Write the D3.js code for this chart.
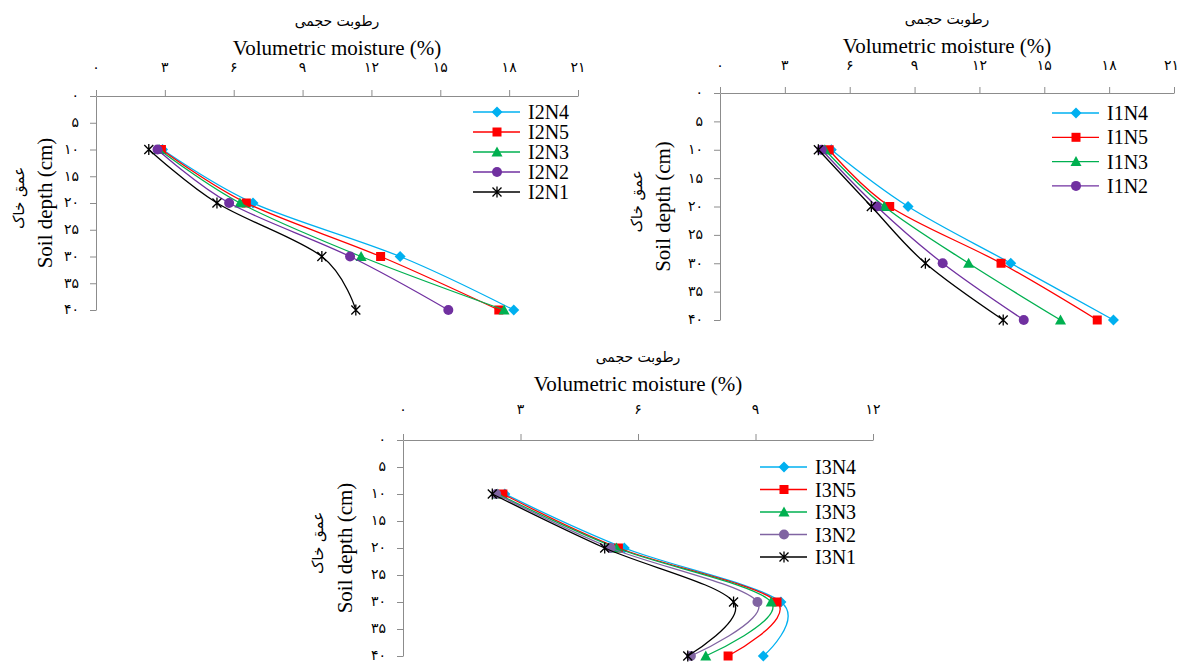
<!DOCTYPE html>
<html><head><meta charset="utf-8">
<script src="https://cdn.jsdelivr.net/npm/d3@7"></script>
<style>
html,body{margin:0;padding:0;background:#fff;}
</style></head>
<body>
<svg id="chart" width="1180" height="662"></svg>
<script>
// ---------- data ----------
const depths = [10, 20, 30, 40];
const yTickValues = [0, 5, 10, 15, 20, 25, 30, 35, 40];
const yTickLabels = ["۰","۵","۱۰","۱۵","۲۰","۲۵","۳۰","۳۵","۴۰"];
const xTickValues21 = [0, 3, 6, 9, 12, 15, 18, 21];
const xTickLabels21 = ["۰","۳","۶","۹","۱۲","۱۵","۱۸","۲۱"];
const xTickValues12 = [0, 3, 6, 9, 12];
const xTickLabels12 = ["۰","۳","۶","۹","۱۲"];
const xTitleFa = "رطوبت حجمی";
const xTitleEn = "Volumetric moisture (%)";
const yTitleFa = "عمق خاک";
const yTitleEn = "Soil depth (cm)";

// Panel I2 (top-left)
const i2Names = ["I2N4", "I2N5", "I2N3", "I2N2", "I2N1"];
const I2N4 = [2.9, 6.84, 13.25, 18.2];
const I2N5 = [2.85, 6.55, 12.4, 17.55];
const I2N3 = [2.75, 6.27, 11.55, 17.78];
const I2N2 = [2.68, 5.8, 11.07, 15.35];
const I2N1 = [2.3, 5.27, 9.84, 11.32];

// Panel I1 (top-right)
const i1Names = ["I1N4", "I1N5", "I1N3", "I1N2", "I1N1"];
const I1N4 = [5.15, 8.7, 13.45, 18.2];
const I1N5 = [5.05, 7.85, 13.0, 17.45];
const I1N3 = [4.85, 7.6, 11.5, 15.75];
const I1N2 = [4.7, 7.25, 10.3, 14.05];
const I1N1 = [4.55, 7.0, 9.5, 13.1];
const i1Legend = ["I1N4", "I1N5", "I1N3", "I1N2"];

// Panel I3 (bottom)
const i3Names = ["I3N4", "I3N5", "I3N3", "I3N2", "I3N1"];
const I3N4 = [2.6, 5.65, 9.65, 9.2];
const I3N5 = [2.55, 5.5, 9.55, 8.3];
const I3N3 = [2.42, 5.45, 9.4, 7.73];
const I3N2 = [2.38, 5.3, 9.05, 7.35];
const I3N1 = [2.28, 5.15, 8.44, 7.27];

// ---------- styles ----------
const SERIF = "'Liberation Serif','Times New Roman','DejaVu Serif',serif";
const FA = "'DejaVu Sans','Noto Sans',sans-serif";
const markerOf = {N4: "diamond", N5: "square", N3: "triangle", N2: "circle", N1: "star"};
const colorTop = {N4: "#00b0f0", N5: "#ff0000", N3: "#00b050", N2: "#7030a0", N1: "#000000"};
const colorBottom = {N4: "#00b0f0", N5: "#ff0000", N3: "#00b050", N2: "#8064a2", N1: "#000000"};

const svg = d3.select("#chart");
const W = 1180;

function drawMarker(g, type, x, y, color) {
  if (type === "diamond") {
    g.append("path").attr("d", `M${x},${y-5.5}L${x+5.5},${y}L${x},${y+5.5}L${x-5.5},${y}Z`).attr("fill", color);
  } else if (type === "square") {
    g.append("rect").attr("x", x-4.5).attr("y", y-4.5).attr("width", 9).attr("height", 9).attr("fill", color);
  } else if (type === "triangle") {
    g.append("path").attr("d", `M${x},${y-5.5}L${x+5.5},${y+4.5}L${x-5.5},${y+4.5}Z`).attr("fill", color);
  } else if (type === "circle") {
    g.append("circle").attr("cx", x).attr("cy", y).attr("r", 5).attr("fill", color);
  } else if (type === "star") {
    const r = 4.5;
    g.append("path").attr("d", `M${x-r},${y-r}L${x+r},${y+r}M${x-r},${y+r}L${x+r},${y-r}M${x},${y-r-1}L${x},${y+r+1}`)
      .attr("stroke", color).attr("stroke-width", 1.3).attr("fill", "none");
  }
}

function drawPanel(p) {
  const g = svg.append("g");
  const x = d3.scaleLinear().domain([0, p.xMax]).range([p.x0, p.x1]);
  const y = d3.scaleLinear().domain([0, 40]).range([p.y0, p.y1]);
  const axisColor = "#8c8c8c";

  // x axis (top, ticks up)
  const xa = g.append("g").attr("transform", `translate(0,${p.y0})`)
    .call(d3.axisTop(x).tickValues(p.xTicks).tickSize(6).tickSizeOuter(0).tickFormat(""));
  xa.select(".domain").attr("stroke", axisColor);
  xa.selectAll(".tick line").attr("stroke", axisColor);
  p.xTicks.forEach((v, i) => {
    const t = g.append("text").attr("font-family", FA).attr("x", x(v)).attr("y", p.tickLabelY)
      .attr("text-anchor", "middle").attr("font-size", 14).text(p.xLabels[i]);
    const bb = t.node().getBBox();
    if (bb.x + bb.width > W - 1) t.attr("text-anchor", "end").attr("x", W - 1);
  });

  // y axis (left, ticks left)
  const ya = g.append("g").attr("transform", `translate(${p.x0},0)`)
    .call(d3.axisLeft(y).tickValues(yTickValues).tickSize(6).tickSizeOuter(0).tickFormat(""));
  ya.select(".domain").attr("stroke", axisColor);
  ya.selectAll(".tick line").attr("stroke", axisColor);
  yTickValues.forEach((v, i) => {
    g.append("text").attr("font-family", FA).attr("x", p.x0 - 17).attr("y", y(v)).attr("dy", "0.32em")
      .attr("text-anchor", "end").attr("font-size", 14).text(yTickLabels[i]);
  });

  // titles
  const cx = (p.x0 + p.x1) / 2;
  g.append("text").attr("font-family", FA).attr("x", cx).attr("y", p.faTitleY).attr("text-anchor", "middle")
    .attr("font-size", 14).text(xTitleFa);
  g.append("text").attr("font-family", SERIF).attr("x", cx).attr("y", p.enTitleY).attr("text-anchor", "middle")
    .attr("font-size", 21).text(xTitleEn);
  const cy = (p.y0 + p.y1) / 2;
  g.append("text").attr("font-family", SERIF).attr("transform", `translate(${p.enYTitleX},${cy}) rotate(-90)`).attr("text-anchor", "middle")
    .attr("dy", "0.35em").attr("font-size", 21).text(yTitleEn);
  g.append("text").attr("font-family", FA).attr("transform", `translate(${p.faYTitleX},${cy - 5}) rotate(-90)`).attr("text-anchor", "middle")
    .attr("dy", "0.35em").attr("font-size", 15).text(yTitleFa);

  // series
  const line = d3.line().x(d => x(d[0])).y(d => y(d[1])).curve(d3.curveCardinal.tension(0));
  p.series.forEach(s => {
    const key = s.name.slice(2);
    const col = p.colors[key];
    const pts = s.values.map((v, i) => [v, depths[i]]);
    g.append("path").attr("d", line(pts)).attr("fill", "none").attr("stroke", col).attr("stroke-width", 1.3);
    pts.forEach(d => drawMarker(g, markerOf[key], x(d[0]), y(d[1]), col));
  });

  // legend
  p.legend.forEach((name, i) => {
    const key = name.slice(2);
    const col = p.colors[key];
    const ly = p.legY + i * p.legStep;
    g.append("line").attr("x1", p.legX).attr("x2", p.legX + 47).attr("y1", ly).attr("y2", ly)
      .attr("stroke", col).attr("stroke-width", 1.3);
    drawMarker(g, markerOf[key], p.legX + 24, ly, col);
    g.append("text").attr("font-family", SERIF).attr("x", p.legX + 55).attr("y", ly).attr("dy", "0.35em")
      .attr("font-size", 20).text(name);
  });
}

drawPanel({
  x0: 96, x1: 578, y0: 96, y1: 310, xMax: 21, xTicks: xTickValues21, xLabels: xTickLabels21,
  tickLabelY: 72, faTitleY: 26, enTitleY: 55, enYTitleX: 45, faYTitleX: 19,
  series: i2Names.map((n, i) => ({name: n, values: [I2N4, I2N5, I2N3, I2N2, I2N1][i]})),
  legend: i2Names, legX: 473, legY: 112, legStep: 20, colors: colorTop
});
drawPanel({
  x0: 720, x1: 1174, y0: 93, y1: 320, xMax: 21, xTicks: xTickValues21, xLabels: xTickLabels21,
  tickLabelY: 70, faTitleY: 24, enTitleY: 53, enYTitleX: 663, faYTitleX: 637,
  series: i1Names.map((n, i) => ({name: n, values: [I1N4, I1N5, I1N3, I1N2, I1N1][i]})),
  legend: i1Legend, legX: 1052, legY: 113, legStep: 24.3, colors: colorTop
});
drawPanel({
  x0: 403, x1: 873, y0: 440, y1: 656, xMax: 12, xTicks: xTickValues12, xLabels: xTickLabels12,
  tickLabelY: 414, faTitleY: 362, enTitleY: 391, enYTitleX: 345, faYTitleX: 318,
  series: i3Names.map((n, i) => ({name: n, values: [I3N4, I3N5, I3N3, I3N2, I3N1][i]})),
  legend: i3Names, legX: 760, legY: 467, legStep: 22.5, colors: colorBottom
});
</script>
</body></html>
